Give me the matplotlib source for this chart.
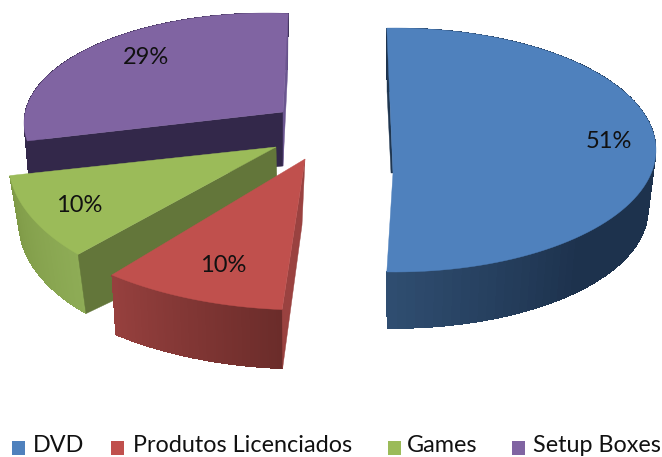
import numpy as np
import matplotlib
matplotlib.use("Agg")
import matplotlib.pyplot as plt
from matplotlib.colors import to_rgb
from matplotlib.patches import Polygon, Rectangle

plt.rcParams['font.family'] = ['Lato', 'DejaVu Sans']

categories = ["DVD", "Produtos Licenciados", "Games", "Setup Boxes"]
shares = [51, 10, 10, 29]
percent_labels = ["51%", "10%", "10%", "29%"]

top_colors = ["#4f81bd", "#c0504d", "#9bbb59", "#8064a2"]
wall_colors = [("#1d324d", "#2f4d70"), ("#6b2c2a", "#96403e"),
               ("#8eac56", "#7f9a47"), ("#33284a", "#33284a")]
start_face = ["#1f3650", "#9a4240", "#63763a", "#33284a"]
end_face = [None, None, None, "#6b5690"]

# exploded slice layout in pixels: tip, ellipse centre, radii, rotation, wall depth, wall shrink
tips = [(393, 173), (305, 159), (276, 147), (283, 112)]
centres = [(395, 150), (305, 163), (276, 160), (267, 123)]
radii = [(261, 122), (298, 147), (268, 140), (243, 110)]
rotations = [-1.8, 0.8, 8, 5]
depths = [60, 62, 63, 54]
shrink = [0.97, 0.98, 0.96, 0.98]
tip_drop = [(-2, 0), (-3, 66), (2, 75), (0, 54)]
label_pos = [(609, 141), (223, 265), (79, 206), (146, 57)]

legend_square_x = [12, 111, 388, 512]
legend_text_x = [33, 133, 407, 533]


def rim(i, theta, lower=False):
    cx, cy = centres[i]
    a, b = radii[i]
    t = np.radians(theta + rotations[i])
    if lower:
        return cx + a * shrink[i] * np.sin(t), cy + depths[i] - b * shrink[i] * np.cos(t)
    return cx + a * np.sin(t), cy - b * np.cos(t)


def cut_face(ax, i, theta, color):
    tip = tips[i]
    drop = (tip[0] + tip_drop[i][0], tip[1] + tip_drop[i][1])
    ax.add_patch(Polygon([tip, rim(i, theta), rim(i, theta, True), drop],
                         closed=True, fc=color, ec=color, lw=0.3))


def draw_slice(ax, i, theta1, theta2):
    # outer wall, shaded in narrow strips that overlap so no seams show
    steps = np.linspace(theta1, theta2, 90)
    c1, c2 = np.array(to_rgb(wall_colors[i][0])), np.array(to_rgb(wall_colors[i][1]))
    for j in range(len(steps) - 1):
        f = min(1, max(0, (j / 88 - 0.75) / 0.25)) if i == 0 else j / 88
        col = c1 + (c2 - c1) * f
        k = min(j + 2, len(steps) - 1)
        ax.add_patch(Polygon([rim(i, steps[j]), rim(i, steps[k]),
                              rim(i, steps[k], True), rim(i, steps[j], True)],
                             closed=True, fc=col, ec='none', antialiased=False))

    cut_face(ax, i, theta1, start_face[i])
    if end_face[i]:
        cut_face(ax, i, theta2, end_face[i])

    outline = [tips[i]] + [rim(i, t) for t in steps]
    ax.add_patch(Polygon(outline, closed=True, fc=top_colors[i], ec=top_colors[i], lw=0.3))


fig = plt.figure(figsize=(6.62, 4.57), dpi=100)
ax = fig.add_axes([0, 0, 1, 1])
ax.set_xlim(0, 662)
ax.set_ylim(457, 0)
ax.axis('off')

bounds = np.cumsum([0] + shares) / sum(shares) * 360
for i in [3, 2, 1, 0]:
    draw_slice(ax, i, bounds[i], bounds[i + 1])

for i in range(4):
    ax.text(label_pos[i][0], label_pos[i][1], percent_labels[i], fontsize=17,
            ha='center', va='center', color='#111111')

for i in range(4):
    ax.add_patch(Rectangle((legend_square_x[i], 441), 13, 14, fc=top_colors[i], ec='none'))
    ax.text(legend_text_x[i], 452, categories[i], fontsize=16.8, ha='left',
            va='baseline', color='#111111')

fig.savefig("out.png", dpi=100)
